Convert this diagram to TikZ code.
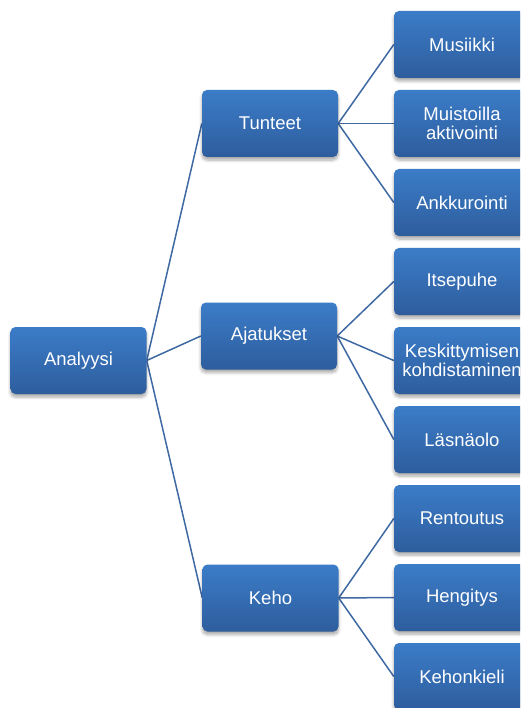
\documentclass[tikz,border=0pt]{standalone}
\usepackage{fontspec}
\setmainfont{Liberation Sans}
\usetikzlibrary{shadows.blur,backgrounds}
\definecolor{boxtop}{HTML}{3B7CC8}
\definecolor{boxbot}{HTML}{2E5D9D}
\definecolor{linkc}{HTML}{3E69A3}
\tikzset{
  box/.style={rectangle, rounded corners=5pt, minimum width=136pt, minimum height=67pt,
    inner sep=0pt, top color=boxtop, bottom color=boxbot, text=white, align=center,
    font=\fontsize{18.5}{19}\selectfont,
    blur shadow={shadow xshift=0pt, shadow yshift=-3pt, shadow blur steps=6, shadow opacity=35, shadow blur radius=3pt}},
  link/.style={draw=linkc, line width=1.5pt}
}
\begin{document}
\begin{tikzpicture}[x=1pt,y=-1pt]
\useasboundingbox (0,0) rectangle (520,708);
\clip (0,0) rectangle (520,708);
\node[box] (an) at (78.5,360.5) {Analyysi};
\node[box] (tu) at (270,123.5) {Tunteet};
\node[box] (aj) at (269,336) {Ajatukset};
\node[box] (ke) at (270.5,598) {Keho};
\node[box] (mu) at (462,44.5) {Musiikki};
\node[box] (ma) at (462,123.5) {Muistoilla\\aktivointi};
\node[box] (ak) at (462,202.5) {Ankkurointi};
\node[box] (it) at (462,281.5) {Itsepuhe};
\node[box] (kk) at (462,360.5) {Keskittymisen\\kohdistaminen};
\node[box] (la) at (462,439.5) {Läsnäolo};
\node[box] (re) at (462,518.5) {Rentoutus};
\node[box] (he) at (462,597.5) {Hengitys};
\node[box] (kh) at (462,676.5) {Kehonkieli};
\begin{scope}[on background layer]
\draw[link] (an.east) -- (tu.west);
\draw[link] (an.east) -- (aj.west);
\draw[link] (an.east) -- (ke.west);
\draw[link] (tu.east) -- (mu.west);
\draw[link] (tu.east) -- (ma.west);
\draw[link] (tu.east) -- (ak.west);
\draw[link] (aj.east) -- (it.west);
\draw[link] (aj.east) -- (kk.west);
\draw[link] (aj.east) -- (la.west);
\draw[link] (ke.east) -- (re.west);
\draw[link] (ke.east) -- (he.west);
\draw[link] (ke.east) -- (kh.west);
\end{scope}
\end{tikzpicture}
\end{document}
